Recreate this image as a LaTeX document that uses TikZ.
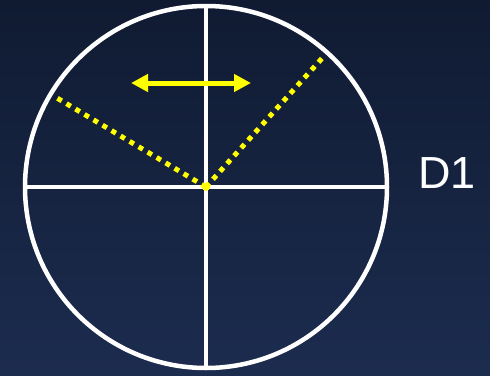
\documentclass[tikz,border=0pt]{standalone}
\usepackage{fontspec}
\setmainfont{Liberation Sans}
\usetikzlibrary{arrows.meta}
\definecolor{bgtop}{HTML}{101B32}
\definecolor{bgbot}{HTML}{1C2C4F}
\definecolor{yel}{HTML}{FFFF00}
\tikzset{
  wline/.style={draw=white, line width=3.5pt},
  dotline/.style={draw=yel, line width=5pt, dash pattern=on 5pt off 5.5pt},
  dblarrow/.style={draw=yel, line width=5pt, {Triangle[length=17pt,width=17pt]}-{Triangle[length=17pt,width=17pt]}},
}
\begin{document}
\begin{tikzpicture}[x=1pt,y=-1pt]
\shade[top color=bgtop, bottom color=bgbot] (0,0) rectangle (490,375);
\useasboundingbox (0,0) rectangle (490,375);
\coordinate (c) at (206,187);
\coordinate (l) at (25,187);
\coordinate (r) at (387,187);
\coordinate (t) at (206,6);
\coordinate (b) at (206,368);
\draw[wline] (l) -- (r);
\draw[wline] (t) -- (b);
\draw[draw=white, line width=4.5pt] (c) circle[radius=181];
\coordinate (dl) at (57,98);
\coordinate (dr) at (325,55);
\draw[dotline] (c) -- (dl);
\draw[dotline] (c) -- (dr);
\fill[yel] (c) circle[radius=4];
\coordinate (al) at (131,83);
\coordinate (ar) at (251,83);
\draw[dblarrow] (al) -- (ar);
\node[text=white, font=\fontsize{45}{45}\selectfont, anchor=center, inner sep=0] (d1) at (447,173) {D1};
\end{tikzpicture}
\end{document}
